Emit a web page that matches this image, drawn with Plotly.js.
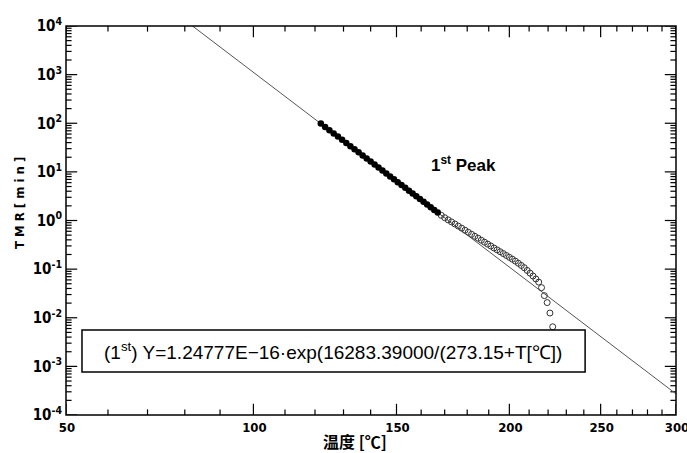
<!DOCTYPE html>
<html>
<head>
<meta charset="utf-8">
<script src="https://cdn.plot.ly/plotly-3.0.1.min.js"></script>
<style>html,body{margin:0;padding:0;background:#fff;}#chart{width:687px;height:453px;}</style>
</head>
<body>
<div id="chart"></div>
<script>
// Fitted line (straight in Arrhenius coordinates)
const fitTemps = [80, 100, 150, 200, 250, 300];
const fitTMR = [13200, 1116, 6.43, 0.1103, 0.00411, 0.000272];

// Filled points (used for the fit)
const filledTemps = [122, 123.5, 125, 126.5, 128, 129.5, 131, 132.5, 134, 135.5, 137, 138.5, 140, 141.5, 143, 144.5, 146, 147.5, 149, 150.5, 152, 153.5, 155, 156.5, 158, 159.5, 161, 162.5, 164, 165.5, 167];
const filledTMR = [98.3, 84.1, 72.0, 61.8, 53.1, 45.6, 39.3, 33.8, 29.2, 25.2, 21.8, 18.85, 16.33, 14.16, 12.29, 10.68, 9.29, 8.08, 7.05, 6.15, 5.37, 4.69, 4.10, 3.59, 3.15, 2.76, 2.43, 2.13, 1.88, 1.65, 1.46];

// Open points
const openTemps = [168.5, 170, 171.5, 173, 174.5, 176, 177.5, 179, 180.5, 182, 183.5, 185, 186.5, 188, 189.5, 191, 192.5, 194, 195.5, 197, 198.5, 200, 201.5, 203, 204.5, 206, 207.5, 209, 210.5, 212, 213.5, 215, 216.5, 218, 219.5, 221, 222.5];
const openTMR = [1.28, 1.14, 1.03, 0.935, 0.847, 0.767, 0.695, 0.631, 0.573, 0.520, 0.473, 0.432, 0.393, 0.358, 0.327, 0.299, 0.272, 0.249, 0.228, 0.209, 0.191, 0.175, 0.160, 0.146, 0.132, 0.119, 0.107, 0.0940, 0.0826, 0.0721, 0.0628, 0.0541, 0.0416, 0.0285, 0.0205, 0.0125, 0.00652];

// Axis ticks
const xTickTemps = [50, 100, 150, 200, 250, 300];
const xTickLabels = ['50', '100', '150', '200', '250', '300'];
const xMinorTemps = [60, 70, 80, 90, 110, 120, 130, 140, 160, 170, 180, 190, 210, 220, 230, 240, 260, 270, 280, 290];
const yTickVals = [1e-4, 1e-3, 1e-2, 1e-1, 1e0, 1e1, 1e2, 1e3, 1e4];
const yTickLabels = ['10<sup>-4</sup>', '10<sup>-3</sup>', '10<sup>-2</sup>', '10<sup>-1</sup>', '10<sup>0</sup>', '10<sup>1</sup>', '10<sup>2</sup>', '10<sup>3</sup>', '10<sup>4</sup>'];
const yMinorMantissas = [2, 3, 4, 5, 6, 7, 8, 9];
const yDecades = [-4, -3, -2, -1, 0, 1, 2, 3];

// Arrhenius axis transform: 1000 / absolute temperature
const inv = t => 1000 / (t + 273.15);

const yMinor = [];
yDecades.forEach(d => yMinorMantissas.forEach(m => yMinor.push(m * Math.pow(10, d))));

const xRange = [inv(50), inv(300)];
const yLogRange = [-4, 4];
const yBot = Math.pow(10, yLogRange[0]), yTop = Math.pow(10, yLogRange[1]);

// Tick marks as line markers centred on the frame; the outer half is clipped,
// leaving an inward tick on every side.
function xTickTrace(temps, size) {
  const xs = [], ys = [];
  temps.forEach(t => { xs.push(inv(t), inv(t)); ys.push(yBot, yTop); });
  return {x: xs, y: ys, mode: 'markers', cliponaxis: true, hoverinfo: 'skip',
          marker: {symbol: 'line-ns', size: size, color: '#000', line: {color: '#000', width: 1.2}}};
}
function yTickTrace(vals, size) {
  const xs = [], ys = [];
  vals.forEach(v => { xs.push(xRange[0], xRange[1]); ys.push(v, v); });
  return {x: xs, y: ys, mode: 'markers', cliponaxis: true, hoverinfo: 'skip',
          marker: {symbol: 'line-ew', size: size, color: '#000', line: {color: '#000', width: 1.2}}};
}

const yTickFont = {family: 'Liberation Sans Narrow, DejaVu Sans Condensed, Arial Narrow, Liberation Sans, sans-serif', size: 15, color: '#000', weight: 'bold'};
const xTickFont = {family: 'Liberation Sans Narrow, DejaVu Sans Condensed, Arial Narrow, Liberation Sans, sans-serif', size: 13, color: '#000', weight: 'bold'};

const traces = [
  xTickTrace(xTickTemps, 16),
  xTickTrace(xMinorTemps, 8),
  yTickTrace(yTickVals, 16),
  yTickTrace(yMinor, 8),
  {x: fitTemps.map(inv), y: fitTMR, mode: 'lines', line: {color: '#555', width: 1}, hoverinfo: 'skip'},
  {x: openTemps.map(inv), y: openTMR, mode: 'markers', marker: {symbol: 'circle-open', size: 6, color: '#333', line: {width: 1, color: '#333'}}},
  {x: filledTemps.map(inv), y: filledTMR, mode: 'markers', marker: {symbol: 'circle', size: 6.5, color: '#000'}}
];

const shapes = [
  {type: 'rect', xref: 'paper', yref: 'paper', x0: 0, x1: 1, y0: 0, y1: 1, line: {color: '#000', width: 1.5}, layer: 'above'},
  {type: 'rect', xref: 'paper', yref: 'paper', x0: 0.0262, x1: 0.851, y0: 0.1105, y1: 0.2185,
   line: {color: '#000', width: 1.5}, fillcolor: '#fff', layer: 'above'}
];

const layout = {
  width: 687, height: 453,
  margin: {l: 66, r: 11, t: 26, b: 38, pad: 0},
  paper_bgcolor: '#fff', plot_bgcolor: '#fff',
  showlegend: false,
  xaxis: {
    range: xRange,
    tickmode: 'array', tickvals: xTickTemps.map(inv), ticktext: xTickLabels,
    ticks: '', ticklabeloverflow: 'allow', ticklabelstandoff: 3, ticklabelshift: -1,
    showline: false, showgrid: false, zeroline: false, tickfont: xTickFont
  },
  yaxis: {
    type: 'log', range: yLogRange,
    tickmode: 'array', tickvals: yTickVals, ticktext: yTickLabels,
    ticks: '', ticklabeloverflow: 'allow', ticklabelstandoff: 3,
    showline: false, showgrid: false, zeroline: false, tickfont: yTickFont
  },
  shapes: shapes,
  annotations: [
    {xref: 'paper', yref: 'paper', x: 0.4385, y: 0.1645, xanchor: 'center', yanchor: 'middle', showarrow: false,
     text: '(1<sup>st</sup>) Y=1.24777E−16·exp(16283.39000/(273.15+T[℃])',
     font: {family: 'Liberation Sans, Arial, sans-serif', size: 19, color: '#000'}},
    {xref: 'paper', yref: 'paper', x: 0.652, y: 0.645, xanchor: 'center', yanchor: 'middle', showarrow: false,
     text: '1<sup>st</sup> Peak',
     font: {family: 'Liberation Sans, Arial, sans-serif', size: 17, color: '#000', weight: 'bold'}},
    {xref: 'paper', yref: 'paper', x: -0.0754, y: 0.545, xanchor: 'center', yanchor: 'middle', showarrow: false,
     textangle: -90, text: 'T M R [ m i n ]',
     font: {family: 'Liberation Sans Narrow, DejaVu Sans Condensed, Liberation Sans, sans-serif', size: 13, color: '#000', weight: 'bold'}},
    {xref: 'paper', yref: 'paper', x: 0.474, y: -0.0668, xanchor: 'center', yanchor: 'middle', showarrow: false,
     text: '温度 [℃]',
     font: {family: 'Noto Sans CJK JP, sans-serif', size: 16, color: '#000', weight: 'bold'}}
  ]
};

Plotly.newPlot('chart', traces, layout, {displayModeBar: false, staticPlot: true});
</script>
</body>
</html>
